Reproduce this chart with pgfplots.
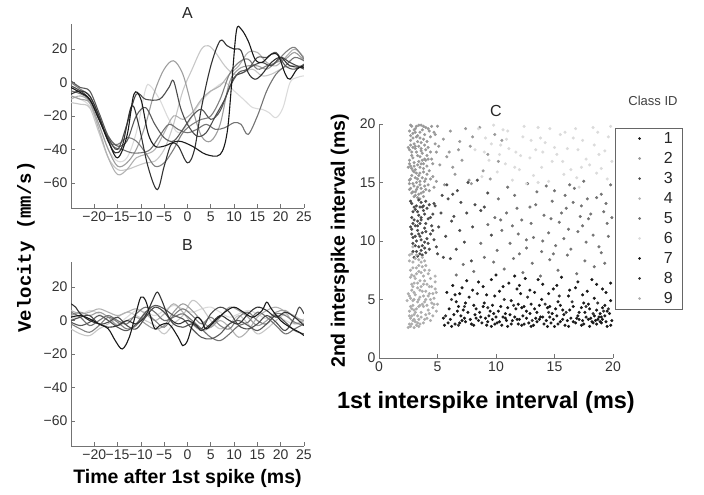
\documentclass[border=0pt]{standalone}
\usepackage{fontspec}
\setmainfont{Liberation Sans}
\setmonofont{Liberation Mono}
\usepackage{pgfplots}
\pgfplotsset{compat=1.18}
\definecolor{g10}{gray}{0.10}
\definecolor{g20}{gray}{0.20}
\definecolor{g30}{gray}{0.30}
\definecolor{g35}{gray}{0.35}
\definecolor{g45}{gray}{0.45}
\definecolor{g50}{gray}{0.50}
\definecolor{g55}{gray}{0.55}
\definecolor{g60}{gray}{0.60}
\definecolor{g62}{gray}{0.62}
\definecolor{g68}{gray}{0.68}
\definecolor{g70}{gray}{0.70}
\definecolor{g78}{gray}{0.78}
\definecolor{g86}{gray}{0.86}
\pgfplotsset{
  mypanel/.style={
    scale only axis,
    axis x line*=bottom, axis y line*=left,
    axis line style={black!55, line width=0.6pt},
    tick style={black!55, line width=0.6pt},
    tick align=inside,
    major tick length=3.5pt,
    /pgf/number format/assume math mode=true,
    ticklabel style={font=\fontsize{14}{16}\selectfont, text=black!80},
    title style={font=\fontsize{16}{18}\selectfont, text=black!85, at={(axis description cs:0.5,1)}, anchor=south},
  },
  vel/.style={mypanel, width=233pt, height=184pt, xmin=-25, xmax=25, ymin=-75, ymax=35,
    xtick={-20,-15,...,25}, xticklabels={−20,−15,−10,−5,0,5,10,15,20,25},
    ytick={-60,-40,-20,0,20}, yticklabels={−60,−40,−20,0,20},
    every axis plot/.append style={smooth, tension=0.55, line width=1.1pt, no markers}},
  dots/.style={only marks, mark=*, mark size=1.35pt, color=#1,
    legend image code/.code={\path (-21pt,0pt) (22pt,0pt); \draw[##1, mark size=1pt] plot coordinates {(0pt,0pt)};}},
}
\begin{document}
\begin{tikzpicture}
\useasboundingbox (0pt,0pt) rectangle (704pt,495pt);
% ---------------- Panel A
\begin{axis}[vel, at={(71pt,287pt)}, anchor=south west, title={A}, title style={yshift=-4pt}]
\addplot[g86] coordinates {(-25,-8)(-23,-10)(-21,-14)(-19,-26)(-17,-40)(-15,-47)(-13,-45)(-11,-30)(-9,-4)(-8,-2)(-6,-10)(-4,-22)(-2,-30)(0,-25)(2,-15)(4,-8)(6,-3)(8,0)(10,-5)(12,-10)(14,-15)(16,-16)(17.5,-18)(19,-21)(20.5,-15)(22,0)(23.5,3)(25,4)};
\addplot[g78] coordinates {(-25,-12)(-23,-13)(-21,-15)(-19,-30)(-17,-45)(-15,-52)(-13,-52)(-11,-50)(-9,-48)(-7,-47)(-5,-40)(-3,-25)(-1,-5)(1,8)(3,20)(4.5,22)(6,18)(8,10)(10,5)(12,6)(14,8)(16,4)(18,5)(20,8)(22,10)(25,10)};
\addplot[g70] coordinates {(-25,-10)(-23,-8)(-21,-12)(-19,-28)(-17,-45)(-15,-55)(-13,-52)(-11,-45)(-9,-43)(-7,-40)(-5,-30)(-3,-20)(-1,-22)(1,-18)(3,-10)(5,-5)(7,-2)(9,5)(11,10)(13,18)(15,18)(17,12)(19,10)(21,15)(23,20)(25,15)};
\addplot[g62] coordinates {(-25,-8)(-23,-10)(-21,-12)(-19,-25)(-17,-40)(-15,-50)(-13,-48)(-11,-40)(-9,-25)(-7,-5)(-5,8)(-3,13)(-1,5)(1,-15)(3,-32)(5,-35)(7,-25)(9,0)(11,8)(13,10)(15,10)(17,8)(19,12)(21,14)(23,18)(25,13)};
\addplot[g50] coordinates {(-25,0)(-23,-4)(-21,-8)(-19,-20)(-17,-35)(-15,-37)(-13,-33)(-11,-35)(-9,-42)(-7,-50)(-5,-48)(-3,-40)(-1,-30)(1,-25)(3,-22)(5,-20)(7,-10)(9,5)(11,12)(13,14)(15,8)(17,10)(19,12)(21,18)(23,21)(25,14)};
\addplot[g45] coordinates {(-25,-5)(-22,-8)(-20,-15)(-18,-28)(-16,-38)(-14,-40)(-12,-42)(-10,-42)(-8,-40)(-6,-32)(-4,-25)(-2,-28)(0,-30)(2,-28)(4,-25)(6,-28)(8,-27)(10,-24)(11.5,-25)(13,-31)(15,-20)(17,-5)(19,5)(21,10)(23,15)(25,13)};
\addplot[g35] coordinates {(-25,1)(-23,-3)(-21,-5)(-19,-18)(-17,-32)(-15,-38)(-13,-35)(-11,-20)(-9,-15)(-7,-25)(-5,-33)(-3,-35)(-1,-28)(1,-20)(3,-16)(5,-22)(7,-17)(9,-3)(11,6)(13,8)(15,15)(17,15)(19,18)(21,10)(23,8)(25,11)};
\addplot[g30] coordinates {(-25,-2)(-23,-5)(-21,-10)(-19,-22)(-17,-33)(-15,-40)(-13,-25)(-11,-7)(-9,-10)(-6,-10)(-4,-3)(-3,1)(-1.5,-15)(0,-25)(2,-32)(4,-30)(6,-20)(8,-10)(10,3)(12,6)(14,10)(16,12)(18,10)(20,15)(22,12)(25,8)};
\addplot[g20] coordinates {(-25,-7)(-23,-5)(-21,-8)(-19,-20)(-17,-35)(-15.5,-42)(-14,-38)(-12,-14)(-10.5,-25)(-8.5,-50)(-6.5,-64)(-5,-50)(-3.5,-37)(-2,-38)(0,-48)(1.5,-40)(3,-15)(5,10)(7,25)(8.5,22)(10,20)(11.5,19)(13,6)(14.5,2)(16,5)(18,12)(20,15)(22,10)(25,9)};
\addplot[g10] coordinates {(-25,-3)(-23,-6)(-21,-10)(-19,-22)(-17,-35)(-15,-45)(-13,-32)(-11.5,-7)(-10,-10)(-8.5,-30)(-7,-38)(-5,-38)(-2,-35)(1,-38)(4,-43)(7,-43)(8.5,-30)(9.5,0)(10.5,31)(11.5,32)(13,25)(14.5,14)(16,12)(18,17)(19.5,16)(21,5)(22,2)(23.5,8)(25,10)};
\end{axis}
% ---------------- Panel B
\begin{axis}[vel, at={(71pt,49pt)}, anchor=south west, title={B}, title style={yshift=2pt},
  xlabel={Time after 1st spike (ms)},
  xlabel style={font=\bfseries\fontsize{19.5}{22}\selectfont, at={(axis description cs:0.5,0)}, anchor=center, yshift=-32pt}]
\addplot[g86] coordinates {(-25,1)(-23,3)(-21,6)(-19,4)(-17,0)(-15,-2)(-13,2)(-11,6)(-9,5)(-7,3)(-5,6)(-3,9)(-1,7)(1,5)(3,7)(5,8)(7,5)(9,2)(11,4)(13,6)(15,4)(17,1)(19,3)(21,0)(23,-2)(25,1)};
\addplot[g78] coordinates {(-25,-5)(-23,-8)(-21,-9)(-19,-5)(-17,-2)(-15,2)(-13,5)(-11,3)(-9,0)(-7,-3)(-5,-8)(-3,-2)(-1,3)(1,12)(3,8)(5,0)(7,-5)(9,-2)(11,3)(13,-2)(15,-8)(17,-5)(19,0)(21,4)(23,3)(25,-2)};
\addplot[g70] coordinates {(-25,6)(-23,4)(-21,5)(-19,7)(-17,5)(-15,3)(-13,5)(-11,7)(-9,4)(-7,0)(-5,4)(-3,10)(-1,5)(1,-2)(3,-6)(5,-4)(7,0)(9,-4)(11,-10)(13,-6)(15,2)(17,6)(19,8)(21,5)(23,-2)(25,0)};
\addplot[g62] coordinates {(-25,3)(-23,5)(-21,3)(-19,5)(-17,2)(-15,-3)(-13,0)(-11,2)(-9,-2)(-7,-5)(-5,-3)(-3,5)(-1,10)(1,6)(3,0)(5,-4)(7,2)(9,8)(11,6)(13,2)(15,-3)(17,0)(19,5)(21,6)(23,2)(25,0)};
\addplot[g50] coordinates {(-25,-2)(-23,-5)(-21,-7)(-19,-3)(-17,2)(-15,-1)(-13,-5)(-11,-3)(-9,4)(-7,0)(-5,-4)(-3,3)(-1,7)(1,3)(3,-2)(5,2)(7,-3)(9,-5)(11,2)(13,5)(15,0)(17,-2)(19,4)(21,3)(23,-1)(25,-3)};
\addplot[g45] coordinates {(-25,5)(-23,2)(-21,-3)(-19,0)(-17,3)(-15,0)(-13,-2)(-11,4)(-9,8)(-7,5)(-5,0)(-3,2)(-1,4)(1,0)(3,-5)(5,-10)(7,-12)(9,-8)(11,-3)(13,-1)(15,5)(17,2)(19,-3)(21,-8)(23,-5)(25,-2)};
\addplot[g35] coordinates {(-25,-1)(-23,-3)(-21,-1)(-19,3)(-17,0)(-15,-4)(-13,-6)(-11,-2)(-9,5)(-7,9)(-5,7)(-3,3)(-1,1)(1,-5)(3,-10)(5,-11)(7,-8)(9,-2)(11,0)(13,-3)(15,-6)(17,-2)(19,3)(21,-1)(23,-6)(25,-8)};
\addplot[g30] coordinates {(-25,0)(-23,2)(-21,3)(-19,-2)(-17,-1)(-15,2)(-13,-3)(-11,-5)(-9,2)(-7,8)(-5,5)(-3,-2)(-1,-4)(1,-2)(3,-5)(5,4)(7,8)(9,5)(11,-3)(13,-5)(15,-2)(17,3)(19,-1)(21,-6)(23,2)(24,8)(25,4)};
\addplot[g20] coordinates {(-25,10)(-24,8)(-23,4)(-21,0)(-19,-2)(-17,-4)(-15,-3)(-13,0)(-11,-2)(-9,3)(-7.5,12)(-6.5,17)(-5.5,12)(-4,2)(-2,-2)(0,0)(2,-3)(3,-6)(5,-2)(7,3)(9,0)(11,-2)(13,4)(15,8)(17,6)(19,2)(21,5)(23,2)(25,-3)};
\addplot[g10] coordinates {(-25,2)(-23,3)(-21,1)(-19,-2)(-17,-5)(-15.5,-12)(-14,-17)(-12.5,-10)(-11,5)(-10,14)(-9,12)(-8,3)(-7,-5)(-6,-3)(-4,-2)(-2,-10)(-1,-15)(0,-12)(1,-3)(2,2)(3,0)(4,-5)(6,0)(8,5)(10,8)(12,5)(14,2)(16,6)(17,11)(18,7)(20,0)(22,-4)(24,-7)(25,-9)};
\end{axis}
\node[rotate=90, font=\ttfamily\bfseries\fontsize{19}{20}\selectfont] at (26pt,248pt) {Velocity (mm/s)};
% ---------------- Panel C
\begin{axis}[mypanel, at={(379pt,137pt)}, anchor=south west, width=234pt, height=234pt,
  xmin=0, xmax=20, ymin=0, ymax=20, xtick={0,5,...,20}, ytick={0,5,...,20},
  xticklabels={0,5,10,15,20}, yticklabels={0,5,10,15,20},
  title={C}, title style={yshift=-2pt},
  xlabel={1st interspike interval (ms)}, ylabel={2nd interspike interval (ms)},
  xlabel style={font=\bfseries\fontsize{23.5}{26}\selectfont, at={(axis description cs:0.457,-0.188)}, anchor=center},
  ylabel style={font=\bfseries\fontsize{19.5}{22}\selectfont, at={(axis description cs:-0.167,0.5)}, anchor=center},
  legend style={at={(axis description cs:1.0085,0.983)}, anchor=north west,
    draw=black!60, line width=0.6pt, font=\fontsize{16}{18}\selectfont,
    inner xsep=3pt, inner ysep=2pt, row sep=3.4pt, text=black!85},
]
\addplot[dots=g10] coordinates {(6.7,4.0)(9.8,3.8)(12.2,4.3)(15.1,4.2)(17.6,3.9)};
\addlegendentry{1\hspace*{5pt}}
\addplot[dots=g60] coordinates {(2.8,19.8)(3.1,19.6)(3.4,19.9)(2.9,19.2)(3.3,19.0)(3.7,19.5)(2.7,18.6)(3.0,18.3)(3.5,18.8)(3.9,18.2)(2.6,17.8)(3.2,17.6)(3.6,17.9)(4.1,17.3)(2.9,17.1)(3.4,16.8)(2.7,16.4)(3.8,16.6)(3.1,16.1)(3.5,15.8)(4.3,16.0)(2.8,15.6)(3.3,15.3)(3.9,15.1)(2.6,14.9)(3.0,14.7)(3.6,14.5)(4.2,14.8)(2.9,14.2)(3.4,14.0)(3.8,13.8)(3.1,19.3)(3.6,18.4)(2.8,17.3)(3.3,16.5)(3.0,15.9)(3.7,15.4)(3.2,14.4)(4.4,18.9)(4.0,19.7)(3.5,17.2)(2.7,19.0)(4.5,17.0)(3.8,14.2)(4.6,15.5)(3.2,18.9)(2.9,16.0)(3.5,16.3)(4.0,16.9)(3.1,17.9)(3.9,19.1)(2.6,15.2)(3.3,13.7)(4.1,15.7)(3.6,19.9)(2.8,14.1)(3.4,18.1)(3.7,17.5)(4.3,19.4)(3.0,16.7)(2.5,18.0)(2.6,16.9)(3.2,15.0)(4.2,18.0)(4.7,19.3)(3.8,16.2)(4.0,14.4)(3.5,14.8)(3.1,13.9)(2.9,18.0)
(2.7,19.9)(3.0,19.5)(3.5,19.3)(3.8,19.8)(4.2,19.6)(2.6,19.4)(2.9,18.8)(3.3,18.5)(3.8,18.7)(4.1,18.5)(2.7,18.2)(3.1,18.1)(3.6,17.7)(4.0,17.8)(4.4,17.6)(2.8,17.6)(3.3,17.3)(3.9,17.0)(2.6,16.6)(3.0,16.4)(3.6,16.6)(4.1,16.4)(2.8,16.2)(3.2,15.8)(3.8,15.9)(4.4,15.3)(2.7,15.3)(3.1,15.4)(3.5,15.1)(4.0,15.3)(2.9,14.9)(3.3,14.6)(3.9,14.7)(2.7,14.5)(3.1,14.2)(3.6,14.1)(4.3,14.3)(3.0,13.8)(3.5,13.6)(4.6,16.6)(4.8,18.3)(4.5,19.8)(3.4,15.6)(3.7,16.9)(3.2,19.8)(4.2,17.0)(2.5,16.3)(2.6,14.4)(4.9,17.6)(4.7,14.6)
(5.0,19.8)(5.5,18.7)(6.1,19.4)(6.8,17.8)(7.4,19.6)(8.0,18.9)(5.2,16.5)(5.8,17.2)(6.5,15.7)(7.1,16.9)(7.8,18.1)(8.6,19.7)(9.3,17.4)(9.9,19.1)(10.5,18.6)(4.9,15.1)(5.6,14.8)(6.3,16.3)(7.7,15.2)(8.9,16.0)(5.1,18.1)(6.0,17.6)(9.5,15.3)(10.2,16.8)(4.8,19.1)(6.9,18.5)(7.9,14.9)};
\addlegendentry{2\hspace*{5pt}}
\addplot[dots=g30] coordinates {(2.8,13.2)(3.2,13.0)(3.6,13.3)(4.1,12.8)(2.9,12.5)(3.4,12.2)(3.8,12.6)(3.0,11.8)(3.5,11.5)(4.2,11.9)(2.7,11.2)(3.3,10.9)(3.9,11.1)(3.1,10.4)(3.6,10.1)(4.4,10.6)(2.9,9.8)(3.4,9.5)(3.9,9.9)(3.2,9.1)(3.7,8.8)(4.3,9.3)(3.0,8.6)(3.5,12.9)(4.0,13.4)(3.3,11.7)(3.7,10.7)(3.2,10.0)(2.8,10.6)(4.6,12.3)(3.6,12.0)(4.5,11.3)(3.4,13.5)(3.9,9.4)(4.1,10.2)(2.9,11.5)(3.5,8.9)
(2.7,13.4)(3.1,12.7)(3.7,12.9)(4.3,13.1)(2.8,12.0)(3.3,12.5)(3.9,12.3)(4.4,12.0)(3.1,11.3)(3.6,11.8)(4.0,11.5)(2.8,11.0)(3.4,10.6)(4.0,10.8)(2.9,10.3)(3.5,10.4)(4.2,9.8)(3.1,9.6)(3.6,9.2)(4.0,9.0)(2.9,9.1)(3.3,8.7)(4.6,10.9)(4.7,13.2)(3.8,13.0)(3.3,11.3)(3.7,9.6)(3.0,12.9)
(4.8,13.0)(5.3,12.4)(5.9,13.6)(6.4,12.1)(7.0,13.3)(5.1,11.2)(5.7,10.4)(6.2,11.7)(6.9,10.9)(7.5,12.4)(8.2,13.1)(4.9,9.5)(5.5,8.6)(6.6,9.3)(7.3,9.9)(8.0,11.2)(8.7,12.6)(9.3,14.1)(5.8,14.8)(6.7,14.3)(7.6,15.0)(8.4,15.2)(9.0,12.9)(4.7,10.1)(5.4,13.9)(6.1,8.5)(7.9,8.3)(9.6,10.5)(5.0,8.9)(6.3,14.0)};
\addlegendentry{3\hspace*{5pt}}
\addplot[dots=g70] coordinates {(2.4,4.9)(3.1,6.8)(3.7,8.6)(4.3,7.5)(4.8,7.0)(2.9,9.5)(2.6,8.8)};
\addlegendentry{4\hspace*{5pt}}
\addplot[dots=g45] coordinates {(10.2,13.6)(10.9,12.4)(11.6,13.9)(12.2,11.8)(12.9,12.9)(13.5,14.2)(14.1,12.2)(14.8,13.4)(15.4,11.6)(16.0,12.8)(16.7,14.5)(17.3,13.0)(17.9,11.9)(18.6,13.7)(19.2,12.5)(19.8,14.8)(10.5,10.9)(11.2,9.8)(11.9,10.6)(12.6,9.4)(13.2,10.3)(13.9,9.1)(14.5,10.7)(15.1,9.6)(15.8,10.2)(16.4,9.3)(17.0,10.8)(17.7,9.9)(18.3,10.5)(19.0,9.0)(19.6,10.4)(9.8,8.2)(10.7,7.6)(11.5,8.5)(12.3,7.3)(13.1,8.1)(13.8,7.0)(14.6,8.4)(15.3,7.5)(16.1,8.8)(16.9,7.2)(17.6,8.3)(18.4,7.8)(19.3,8.1)(11.0,14.6)(12.7,14.9)(14.3,14.7)(15.9,13.9)(17.5,15.1)(19.0,14.0)(11.4,11.3)(13.0,11.5)(14.7,11.9)(16.2,11.0)(18.1,12.3)(19.5,11.5)(8.7,9.8)(9.3,11.4)(9.9,12.0)(12.0,8.9)(14.0,10.0)(15.6,12.4)(17.2,12.1)(18.8,9.5)(16.6,13.3)(10.1,9.2)
(6.6,7.1)(7.2,8.0)(8.1,7.4)(9.0,8.6)(10.4,11.8)(11.8,12.8)(13.4,13.1)(15.0,14.3)(16.3,14.8)(17.8,13.6)(19.4,13.2)(12.6,10.1)(14.9,8.9)(17.4,11.3)(19.9,12.0)};
\addlegendentry{5\hspace*{5pt}}
\addplot[dots=g86] coordinates {(8.5,19.6)(9.1,18.8)(9.8,19.9)(10.4,18.2)(11.0,19.4)(11.7,17.6)(12.3,18.9)(12.9,17.1)(13.6,19.7)(14.2,18.4)(14.8,16.8)(15.5,19.1)(16.1,17.9)(16.8,19.6)(17.4,18.6)(18.0,16.5)(18.7,19.3)(19.3,17.7)(19.8,19.8)(9.4,16.9)(10.1,15.9)(10.8,16.6)(11.4,15.2)(12.0,16.1)(12.6,14.9)(13.2,15.6)(13.9,16.3)(14.5,15.1)(15.2,17.4)(15.8,15.7)(16.4,16.1)(17.1,14.6)(17.7,17.0)(18.4,18.2)(19.0,16.2)(19.6,18.9)(9.0,17.6)(11.1,17.9)(13.0,18.6)(15.0,18.0)(16.6,18.8)(18.3,19.7)(10.6,19.5)(12.4,19.8)(14.0,17.6)(17.3,16.3)(19.5,15.3)(8.8,15.5)(13.4,17.8)(15.9,19.3)
(8.2,17.8)(9.6,18.3)(10.9,18.7)(12.1,17.3)(13.8,18.8)(14.6,19.6)(15.7,16.8)(17.0,17.8)(18.8,17.4)(19.9,16.8)(11.6,16.3)(13.6,15.0)(16.9,15.4)(18.6,15.8)(10.3,17.4)};
\addlegendentry{6\hspace*{5pt}}
\addplot[dots=g10] coordinates {(5.6,2.8)(6.1,3.3)(6.5,2.9)(7.0,3.6)(7.4,3.1)(7.9,2.9)(8.3,3.4)(8.8,3.0)(9.2,2.8)(9.7,3.3)(10.1,3.0)(10.6,3.5)(11.0,2.7)(11.4,3.2)(11.9,2.9)(12.3,3.6)(12.8,3.0)(13.2,2.8)(13.7,3.3)(14.1,2.9)(14.6,3.5)(15.0,2.7)(15.5,3.1)(15.9,2.8)(16.4,3.4)(16.8,3.0)(17.3,2.8)(17.7,3.5)(18.2,3.1)(18.6,2.9)(19.1,3.3)(19.5,2.7)(19.9,3.2)
(6.0,4.2)(6.6,4.8)(7.2,4.1)(7.7,5.2)(8.1,4.5)(8.6,3.9)(9.0,4.7)(9.5,4.0)(9.9,5.3)(10.4,4.4)(10.8,3.8)(11.3,4.9)(11.7,4.2)(12.1,5.5)(12.6,4.0)(13.0,4.6)(13.5,3.9)(13.9,5.0)(14.4,4.3)(14.8,3.8)(15.3,4.8)(15.7,4.1)(16.2,5.3)(16.6,4.4)(17.1,3.9)(17.5,4.7)(18.0,4.2)(18.4,5.1)(18.9,3.8)(19.3,4.5)(19.8,4.9)
(5.8,5.6)(6.3,6.2)(6.9,5.5)(7.5,6.6)(8.0,5.8)(8.9,6.1)(9.6,6.7)(10.3,5.7)(11.1,6.4)(11.8,5.9)(12.5,6.8)(13.3,5.6)(14.0,6.3)(14.9,5.9)(15.6,6.9)(16.3,5.8)(17.0,6.5)(17.8,5.7)(18.6,6.3)(19.4,5.6)(10.0,7.1)(11.6,7.0)(13.6,6.7)
(7.6,3.9)(8.5,3.2)(9.4,3.6)(10.3,3.1)(11.2,3.7)(12.0,3.3)(12.9,3.8)(13.8,3.5)(14.3,3.2)(15.2,3.6)(16.1,3.2)(17.0,3.6)(17.9,3.3)(18.8,3.5)(19.7,3.8)(18.5,3.2)(19.0,3.0)(19.3,3.6)(18.1,3.4)(17.4,3.2)(16.9,3.4)(15.8,3.7)(14.7,3.0)(13.4,3.4)(12.4,2.9)(11.6,3.5)(10.9,3.2)(9.9,2.9)(9.1,3.4)(8.2,3.7)(7.1,3.2)(6.4,3.7)(5.9,3.0)
(5.5,3.4)(6.2,2.7)(6.9,3.0)(7.3,3.4)(7.8,3.3)(8.1,2.8)(8.7,3.5)(9.3,3.1)(9.6,2.7)(10.0,3.5)(10.5,2.8)(10.8,3.4)(11.3,2.9)(11.8,3.3)(12.2,2.8)(12.6,3.4)(13.0,2.7)(13.5,3.1)(14.0,3.5)(14.4,2.7)(14.9,3.3)(15.3,2.9)(15.7,3.3)(16.2,2.7)(16.6,3.1)(17.1,3.3)(17.5,2.9)(18.0,2.7)(18.4,3.6)(18.9,3.1)(19.4,3.1)(19.8,2.8)(18.7,3.3)(19.0,3.5)(18.3,3.0)
(6.8,4.4)(7.4,4.7)(8.3,4.2)(8.9,4.4)(9.7,4.5)(10.2,4.0)(11.0,4.3)(11.9,4.6)(12.4,4.4)(13.3,4.2)(13.7,4.5)(14.6,4.4)(15.5,4.5)(16.3,4.1)(17.3,4.3)(17.9,4.6)(18.6,4.1)(19.1,4.3)(19.5,4.0)
(6.5,5.4)(7.1,6.0)(8.5,6.5)(9.2,5.4)(10.6,6.1)(12.0,6.2)(12.9,5.8)(14.5,5.5)(15.2,6.2)(16.8,6.0)(17.4,5.4)(18.2,6.7)(19.1,5.9)(19.8,6.4)};
\addlegendentry{7\hspace*{5pt}}
\addplot[dots=g20] coordinates {(6.2,5.0)(7.3,4.4)(8.4,5.5)(9.3,4.3)(10.7,5.0)(11.5,4.5)(12.7,5.2)(14.2,4.6)(15.4,5.3)(16.5,4.8)(17.7,4.4)(18.7,4.7)(19.6,4.2)(5.7,3.6)(6.8,2.8)(13.1,3.2)(14.5,3.9)(16.0,3.9)(18.3,3.8)(19.2,4.0)};
\addlegendentry{8\hspace*{5pt}}
\addplot[dots=g68] coordinates {(2.5,2.6)(2.8,2.9)(3.1,3.1)(2.7,3.4)(3.0,3.7)(3.4,3.3)(2.6,4.0)(3.2,4.2)(3.6,3.9)(2.9,4.5)(3.3,4.8)(3.8,4.4)(4.2,4.1)(2.7,5.1)(3.1,5.4)(3.5,5.2)(4.0,5.0)(4.5,4.7)(2.8,5.8)(3.3,6.0)(3.7,5.7)(4.3,5.5)(4.8,5.9)(3.0,6.4)(3.5,6.6)(4.1,6.3)(2.7,6.9)(3.2,7.2)(3.8,7.0)(4.4,6.8)(2.9,7.7)(3.4,7.9)(3.9,7.5)(2.6,8.3)(3.1,8.5)(3.6,8.2)(2.8,8.9)(3.3,3.0)(2.9,3.2)(3.6,3.5)(4.0,3.7)(2.6,3.6)(3.1,3.9)(3.4,4.4)(2.8,4.2)(3.9,4.8)(4.6,4.3)(4.2,5.3)(3.6,6.1)(2.9,6.1)(4.7,5.1)(4.9,4.0)(3.2,2.8)(2.7,2.7)(3.0,3.3)(3.5,2.9)(4.4,3.2)(3.7,4.6)(2.5,5.5)(3.0,5.0)(4.5,6.1)(3.9,6.6)(3.4,7.4)(2.8,7.1)(4.0,7.9)(4.6,3.6)
(2.6,2.9)(3.0,2.6)(3.4,2.7)(3.8,3.0)(4.1,3.4)(2.8,3.6)(3.3,3.6)(3.9,3.3)(4.3,3.8)(2.7,4.4)(3.0,4.1)(3.5,4.5)(4.1,4.5)(4.7,4.6)(2.9,4.9)(3.4,5.0)(3.8,5.3)(4.4,5.0)(2.6,5.3)(3.0,5.6)(3.5,5.8)(4.0,5.7)(4.6,5.5)(2.8,6.3)(3.3,6.4)(3.8,6.3)(4.3,6.1)(3.0,7.0)(3.6,7.3)(4.2,7.2)(2.7,7.5)(3.2,7.7)(3.7,7.8)(2.9,8.2)(3.4,8.4)(3.9,8.3)(3.2,8.8)(4.9,5.6)(5.0,4.6)(4.8,6.5)};
\addlegendentry{9\hspace*{5pt}}
\end{axis}
\node[font=\fontsize{13}{15}\selectfont, text=black!75] at (653pt,394pt) {Class ID};
\end{tikzpicture}
\end{document}
